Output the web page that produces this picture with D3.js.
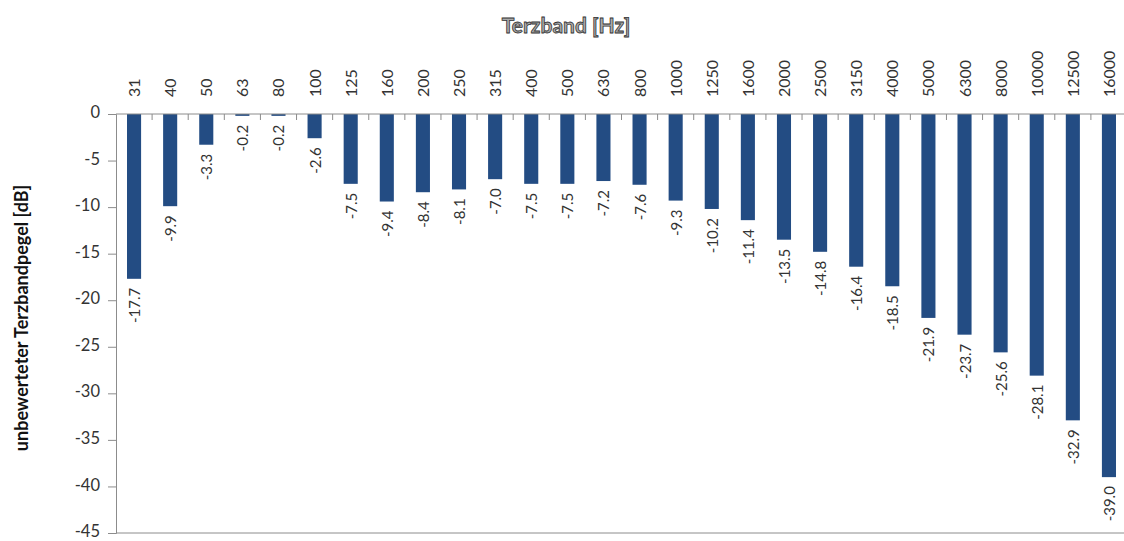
<!DOCTYPE html>
<html><head><meta charset="utf-8">
<script src="https://cdn.jsdelivr.net/npm/d3@7"></script>
<style>body{margin:0;background:#fff}svg{display:block}</style>
</head><body>
<svg id="c" width="1124" height="541"></svg>
<script>
const categories = ["31","40","50","63","80","100","125","160","200","250","315","400","500","630","800","1000","1250","1600","2000","2500","3150","4000","5000","6300","8000","10000","12500","16000"];
const values = [-17.7,-9.9,-3.3,-0.2,-0.2,-2.6,-7.5,-9.4,-8.4,-8.1,-7.0,-7.5,-7.5,-7.2,-7.6,-9.3,-10.2,-11.4,-13.5,-14.8,-16.4,-18.5,-21.9,-23.7,-25.6,-28.1,-32.9,-39.0];
const yTicks = [0,-5,-10,-15,-20,-25,-30,-35,-40,-45];
const xTitle = "Terzband [Hz]";
const yTitle = "unbewerteter Terzbandpegel [dB]";

const svg = d3.select("#c");
const font = "Lato, 'Open Sans', sans-serif";
const L = 116, R = 1127, T = 114, B = 533;
const x = d3.scaleBand().domain(categories).range([L, R]).paddingInner(0.61).paddingOuter(0.305);
const xb = d3.scaleBand().domain(categories).range([L, R]);
const y = d3.scaleLinear().domain([0, -45]).range([T, B]);
const axisCol = "#8c8c8c";

// bottom border line
svg.append("line").attr("x1", L).attr("x2", 1124).attr("y1", y(-45)).attr("y2", y(-45)).attr("stroke", axisCol);

// y axis
const ya = svg.append("g").attr("transform", `translate(${L},0)`)
  .call(d3.axisLeft(y).tickValues(yTicks).tickSize(8).tickPadding(8).tickFormat(d => String(d)));
ya.select(".domain").attr("stroke", axisCol);
ya.selectAll(".tick line").attr("stroke", axisCol);
ya.selectAll("text").attr("font-family", font).attr("font-size", 16.5).attr("fill", "#333").attr("dy", "0.22em");

// bars
svg.append("g").selectAll("rect").data(values).join("rect")
  .attr("x", (d, i) => x(categories[i]))
  .attr("width", x.bandwidth())
  .attr("y", y(0))
  .attr("height", d => y(d) - y(0))
  .attr("fill", "#234c83");

// x axis at zero (top)
svg.append("line").attr("x1", L).attr("x2", 1124).attr("y1", y(0)).attr("y2", y(0)).attr("stroke", axisCol);
svg.append("g").selectAll("line").data(categories.slice(1)).join("line")
  .attr("x1", d => xb(d)).attr("x2", d => xb(d))
  .attr("y1", y(0)).attr("y2", y(0) + 6).attr("stroke", axisCol);

// category labels (rotated)
svg.append("g").selectAll("text").data(categories).join("text")
  .attr("transform", d => `translate(${xb(d) + xb.bandwidth()/2 + 6},97) rotate(-90)`)
  .attr("text-anchor", "start")
  .attr("font-family", font).attr("font-size", 16).attr("fill", "#333")
  .text(d => d);

// value labels
svg.append("g").selectAll("text").data(values).join("text")
  .attr("transform", (d, i) => `translate(${xb(categories[i]) + xb.bandwidth()/2 + 6},${y(d) + 9}) rotate(-90)`)
  .attr("text-anchor", "end")
  .attr("font-family", font).attr("font-size", 15).attr("fill", "#333")
  .text(d => d.toFixed(1));

// titles
svg.append("text").attr("x", 566).attr("y", 33).attr("text-anchor", "middle")
  .attr("font-family", font).attr("font-size", 21).attr("font-weight", "bold")
  .attr("fill", "#aaa").attr("stroke", "#333").attr("stroke-width", 0.8)
  .text(xTitle);
svg.append("text").attr("transform", "translate(28,318) rotate(-90)").attr("text-anchor", "middle")
  .attr("font-family", font).attr("font-size", 18).attr("font-weight", "bold").attr("fill", "#111")
  .text(yTitle);
</script>
</body></html>
